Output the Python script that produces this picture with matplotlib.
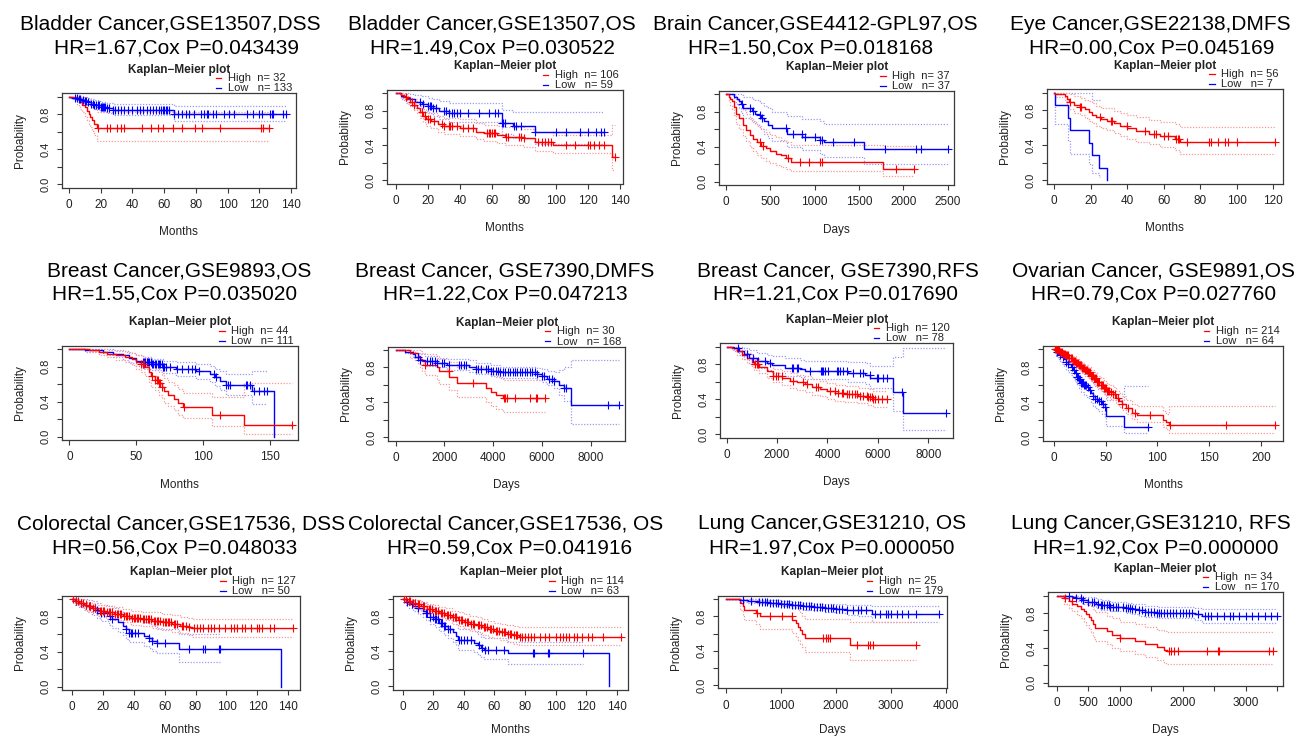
import numpy as np
import matplotlib
matplotlib.use("Agg")
import matplotlib.pyplot as plt
from matplotlib.lines import Line2D

nan = np.nan

# ---------------- text data ----------------
TITLES1 = ["Bladder Cancer,GSE13507,DSS", "Bladder Cancer,GSE13507,OS",
           "Brain Cancer,GSE4412-GPL97,OS", "Eye Cancer,GSE22138,DMFS",
           "Breast Cancer,GSE9893,OS", "Breast Cancer, GSE7390,DMFS",
           "Breast Cancer, GSE7390,RFS", "Ovarian Cancer, GSE9891,OS",
           "Colorectal Cancer,GSE17536, DSS", "Colorectal Cancer,GSE17536, OS",
           "Lung Cancer,GSE31210, OS", "Lung Cancer,GSE31210, RFS"]
TITLES2 = ["HR=1.67,Cox P=0.043439", "HR=1.49,Cox P=0.030522",
           "HR=1.50,Cox P=0.018168", "HR=0.00,Cox P=0.045169",
           "HR=1.55,Cox P=0.035020", "HR=1.22,Cox P=0.047213",
           "HR=1.21,Cox P=0.017690", "HR=0.79,Cox P=0.027760",
           "HR=0.56,Cox P=0.048033", "HR=0.59,Cox P=0.041916",
           "HR=1.97,Cox P=0.000050", "HR=1.92,Cox P=0.000000"]
XLABELS = ["Months", "Months", "Days", "Months", "Months", "Days",
           "Days", "Months", "Months", "Months", "Days", "Days"]
N_HIGH = [32, 106, 37, 56, 44, 30, 120, 214, 127, 114, 25, 34]
N_LOW = [133, 59, 37, 7, 111, 168, 78, 64, 50, 63, 179, 170]
XTICKS = [[0, 20, 40, 60, 80, 100, 120, 140], [0, 20, 40, 60, 80, 100, 120, 140],
          [0, 500, 1000, 1500, 2000, 2500], [0, 20, 40, 60, 80, 100, 120],
          [0, 50, 100, 150], [0, 2000, 4000, 6000, 8000],
          [0, 2000, 4000, 6000, 8000], [0, 50, 100, 150, 200],
          [0, 20, 40, 60, 80, 100, 120, 140], [0, 20, 40, 60, 80, 100, 120, 140],
          [0, 1000, 2000, 3000, 4000], [0, 500, 1000, 1500, 2000, 2500, 3000, 3500]]
XTICKLABELS = [None, None, None, None, None, None, None, None, None, None, None,
               ["0", "500", "1000", "", "2000", "", "3000", ""]]
YTICKS = [0, 0.2, 0.4, 0.6, 0.8, 1.0]
YTICKLABELS = ["0.0", "", "0.4", "", "0.8", ""]

# ---------------- curve data (t: step times, s: survival, up/lo: CI, c: censor times) ----------------
P1_HI_T = [0, 5, 7, 8, 10, 11.5, 12.5, 13.5, 14.5, 16, 17.5]
P1_HI_S = [1, 0.97, 0.94, 0.91, 0.88, 0.84, 0.80, 0.77, 0.73, 0.69, 0.645]
P1_HI_UP = [1, 1, 1, 1, 1, 0.99, 0.97, 0.94, 0.91, 0.88, 0.83]
P1_HI_LO = [1, 0.91, 0.86, 0.82, 0.78, 0.73, 0.69, 0.65, 0.61, 0.56, 0.49]
P1_HI_C = [18, 24, 26, 30, 33, 34.5, 46, 52, 56, 59.5, 65.5, 71, 79.5, 84, 95, 121, 122.5, 126]
P1_LO_T = [0, 2, 4, 6, 8, 10, 12, 14, 16, 18, 20, 24, 28, 66]
P1_LO_S = [1, 0.99, 0.98, 0.97, 0.96, 0.95, 0.935, 0.92, 0.91, 0.90, 0.885, 0.87, 0.85, 0.80]
P1_LO_UP = [1, 1, 1, 1, 0.99, 0.99, 0.98, 0.97, 0.96, 0.95, 0.94, 0.93, 0.92, 0.89]
P1_LO_LO = [1, 0.97, 0.96, 0.94, 0.93, 0.91, 0.90, 0.88, 0.86, 0.85, 0.83, 0.81, 0.79, 0.72]
P1_LO_C = [4, 5, 6, 7, 9, 10, 11, 12, 14, 15, 16, 17, 18, 19, 20, 21, 21.5, 22, 23, 24, 25, 28, 29,
           31, 33, 35, 37, 40, 43, 45, 47, 49, 51, 53, 55, 57, 58, 59, 60, 61, 62, 63, 66, 69, 71,
           74, 76, 79, 83, 85, 87, 88, 91, 93, 98, 101, 104, 112, 116, 120, 122, 127, 128, 129,
           135, 137]

P2_HI_T = [0, 3, 5, 7, 9, 11, 13, 15, 17, 19, 22, 26, 30, 40, 50, 55, 63, 68, 80, 87, 98, 135]
P2_HI_S = [1, 0.98, 0.96, 0.93, 0.90, 0.87, 0.83, 0.79, 0.74, 0.70, 0.68, 0.65, 0.62, 0.60,
           0.56, 0.54, 0.52, 0.50, 0.48, 0.44, 0.41, 0.27]
P2_HI_UP = [1, 1, 0.99, 0.97, 0.95, 0.93, 0.90, 0.86, 0.82, 0.79, 0.77, 0.74, 0.72, 0.70,
            0.66, 0.64, 0.62, 0.61, 0.59, 0.55, 0.52, 0.64]
P2_HI_LO = [1, 0.95, 0.92, 0.88, 0.85, 0.81, 0.77, 0.72, 0.67, 0.62, 0.60, 0.56, 0.53, 0.51,
            0.47, 0.45, 0.43, 0.40, 0.38, 0.34, 0.31, 0.11]
P2_HI_C = [6, 10, 11, 16, 18, 20, 21, 24, 29, 30, 33, 34, 35, 38, 42, 45, 48, 57, 58, 59, 60, 61,
           62, 69, 70, 77, 78, 80, 89, 91, 93, 95, 97, 106, 112, 120, 121, 124, 127, 130, 137]
P2_LO_T = [0, 3, 6, 9, 12, 16, 20, 23, 27, 33, 66, 73, 87]
P2_LO_S = [1, 0.97, 0.95, 0.93, 0.90, 0.88, 0.86, 0.83, 0.80, 0.77, 0.66, 0.62, 0.56]
P2_LO_UP = [1, 1, 1, 0.99, 0.98, 0.97, 0.95, 0.93, 0.91, 0.89, 0.81, 0.79, 0.78]
P2_LO_LO = [1, 0.93, 0.89, 0.86, 0.83, 0.80, 0.77, 0.74, 0.70, 0.67, 0.53, 0.49, 0.42]
P2_LO_C = [15, 17, 20, 21, 22, 23, 25, 30, 31, 33, 35, 36, 38, 40, 45, 52, 58, 62, 64, 66, 67, 68,
           74, 75, 78, 87, 100, 106, 115, 120, 125, 128, 130]

P3_HI_T = [0, 30, 50, 70, 90, 110, 150, 190, 230, 270, 310, 350, 400, 450, 500, 560, 620, 680, 730, 1770]
P3_HI_S = [1, 0.97, 0.95, 0.92, 0.86, 0.78, 0.73, 0.65, 0.59, 0.54, 0.49, 0.45, 0.41, 0.38, 0.35,
           0.32, 0.30, 0.27, 0.23, 0.15]
P3_HI_UP = [1, 1, 1, 1, 0.98, 0.93, 0.89, 0.82, 0.77, 0.72, 0.68, 0.64, 0.60, 0.57, 0.54, 0.51,
            0.48, 0.45, 0.42, 0.41]
P3_HI_LO = [1, 0.92, 0.88, 0.83, 0.76, 0.66, 0.60, 0.52, 0.46, 0.40, 0.35, 0.31, 0.27, 0.24,
            0.21, 0.19, 0.17, 0.15, 0.12, 0.06]
P3_HI_C = [385, 420, 705, 840, 940, 1060, 1080, 1920, 2120]
P3_LO_T = [0, 90, 120, 150, 170, 190, 290, 330, 370, 400, 430, 470, 520, 690, 860, 1060, 1100, 1560]
P3_LO_S = [1, 0.97, 0.95, 0.92, 0.89, 0.84, 0.81, 0.78, 0.76, 0.73, 0.69, 0.65, 0.61, 0.55,
           0.51, 0.48, 0.45, 0.37]
P3_LO_UP = [1, 1, 1, 1, 1, 0.97, 0.95, 0.93, 0.92, 0.90, 0.87, 0.84, 0.80, 0.75, 0.72, 0.69, 0.66, 0.66]
P3_LO_LO = [1, 0.91, 0.88, 0.84, 0.79, 0.73, 0.69, 0.66, 0.63, 0.60, 0.55, 0.50, 0.46, 0.40,
            0.36, 0.32, 0.28, 0.20]
P3_LO_C = [177, 270, 308, 383, 402, 677, 752, 853, 891, 1004, 1060, 1079, 1210, 1444, 1793,
           2139, 2199, 2500]

P4_HI_T = [0, 0.5, 6, 7, 8, 11, 14, 17, 19, 21, 23, 26, 29, 33, 36, 40, 45, 52, 58, 66, 69]
P4_HI_S = [1, 0.98, 0.96, 0.93, 0.89, 0.86, 0.84, 0.81, 0.78, 0.75, 0.72, 0.70, 0.68, 0.65,
           0.62, 0.59, 0.56, 0.53, 0.50, 0.47, 0.43]
P4_HI_UP = [1, 1, 1, 1, 0.98, 0.96, 0.94, 0.92, 0.90, 0.88, 0.85, 0.83, 0.82, 0.79, 0.77, 0.74,
            0.72, 0.69, 0.66, 0.64, 0.61]
P4_HI_LO = [1, 0.95, 0.91, 0.86, 0.81, 0.77, 0.75, 0.71, 0.68, 0.65, 0.62, 0.59, 0.57, 0.54,
            0.50, 0.47, 0.44, 0.41, 0.38, 0.34, 0.30]
P4_HI_C = [8.8, 14.2, 15, 25, 31, 32, 39.8, 50, 55, 55.7, 60, 62.6, 67, 67.7, 68.4, 72.6, 85,
           85.8, 89.6, 93.6, 95, 100, 121]
P4_LO_T = [0, 0.5, 7.5, 8.5, 19, 21, 24.5, 29]
P4_LO_S = [1, 0.857, 0.714, 0.571, 0.429, 0.286, 0.143, 0.0]
P4_LO_UP = [1, 1, 1, 1, 1, 0.92, 0.92, nan]
P4_LO_LO = [1, 0.64, 0.45, 0.30, 0.18, 0.08, 0.03, nan]
P4_LO_C = []

P5_HI_T = [0, 15, 22, 28, 35, 42, 47, 50, 54, 57, 60, 61, 64, 67, 69, 71, 74, 78, 81, 85, 107, 131]
P5_HI_S = [1, 0.99, 0.97, 0.95, 0.93, 0.91, 0.89, 0.86, 0.83, 0.80, 0.74, 0.69, 0.65, 0.61,
           0.57, 0.52, 0.48, 0.43, 0.38, 0.34, 0.25, 0.13]
P5_HI_UP = [1, 1, 1, 0.99, 0.98, 0.97, 0.96, 0.94, 0.92, 0.90, 0.85, 0.81, 0.78, 0.74, 0.71,
            0.67, 0.63, 0.59, 0.55, 0.50, 0.45, 0.62]
P5_HI_LO = [1, 0.97, 0.94, 0.91, 0.88, 0.85, 0.82, 0.78, 0.74, 0.70, 0.63, 0.57, 0.53, 0.48,
            0.44, 0.39, 0.35, 0.30, 0.25, 0.21, 0.12, 0.03]
P5_HI_C = [54, 55.5, 56, 62, 64, 65.5, 66, 67, 68, 69, 85.5, 113, 167]
P5_LO_T = [0, 12, 25, 33, 40, 45, 50, 55, 62, 70, 80, 95, 105, 109, 113, 117, 137, 153]
P5_LO_S = [1, 0.99, 0.97, 0.95, 0.93, 0.90, 0.87, 0.85, 0.83, 0.80, 0.78, 0.75, 0.72, 0.68,
           0.64, 0.595, 0.525, 0.0]
P5_LO_UP = [1, 1, 1, 0.99, 0.98, 0.96, 0.93, 0.91, 0.89, 0.87, 0.85, 0.83, 0.81, 0.78, 0.75,
            0.72, 0.75, nan]
P5_LO_LO = [1, 0.97, 0.94, 0.91, 0.88, 0.84, 0.81, 0.78, 0.76, 0.73, 0.70, 0.66, 0.63, 0.58,
            0.53, 0.48, 0.37, nan]
P5_LO_C = [55, 56, 57, 58, 59, 60, 61, 62, 63, 64, 65, 66, 67, 68, 69, 70, 71, 72, 75.5, 80.5,
           84, 89, 92, 94, 97, 108, 110, 117, 119, 120.5, 132, 133, 135, 138, 142, 145.5, 148]

P6_HI_T = [0, 600, 900, 1000, 1100, 1200, 1700, 1800, 2200, 2500, 3700, 3900, 4100, 4400]
P6_HI_S = [1, 0.97, 0.93, 0.90, 0.87, 0.83, 0.80, 0.76, 0.69, 0.62, 0.57, 0.52, 0.49, 0.45]
P6_HI_UP = [1, 1, 1, 0.99, 0.97, 0.95, 0.93, 0.90, 0.86, 0.80, 0.76, 0.72, 0.69, 0.66]
P6_HI_LO = [1, 0.91, 0.85, 0.80, 0.76, 0.71, 0.66, 0.61, 0.54, 0.46, 0.41, 0.36, 0.32, 0.29]
P6_HI_C = [1200, 2190, 3160, 4450, 4490, 4550, 4900, 5510, 5750, 5800, 6150]
P6_LO_T = [0, 400, 700, 800, 1000, 1200, 1700, 2100, 3000, 3300, 3900, 4300, 5800, 6000, 6200,
           6500, 6700, 6900, 7200]
P6_LO_S = [1, 0.98, 0.95, 0.92, 0.89, 0.87, 0.85, 0.83, 0.81, 0.78, 0.76, 0.745, 0.72, 0.70,
           0.67, 0.65, 0.60, 0.56, 0.37]
P6_LO_UP = [1, 1, 0.99, 0.97, 0.95, 0.93, 0.91, 0.90, 0.88, 0.85, 0.83, 0.81, 0.79, 0.78, 0.76,
            0.75, 0.77, 0.80, 0.89]
P6_LO_LO = [1, 0.96, 0.92, 0.88, 0.84, 0.82, 0.80, 0.77, 0.75, 0.72, 0.70, 0.68, 0.66, 0.63,
            0.60, 0.57, 0.48, 0.42, 0.15]
P6_LO_C = [900, 1000, 1300, 1400, 1500, 1600, 1700, 1900, 2000, 2200, 2600, 2700, 2800, 2900,
           3300, 3400, 3500, 3700, 3800, 3900, 4000, 4100, 4200, 4300, 4400, 4500, 4600, 4700,
           4800, 4900, 5000, 5100, 5200, 5300, 5400, 5500, 5600, 5700, 5800, 6000, 6100, 6300,
           6400, 6500, 6900, 7000, 8700, 9150]

P7_HI_T = [0, 200, 400, 600, 800, 1000, 1100, 1300, 1600, 1850, 2200, 2500, 2800, 3100, 3400,
           3700, 4000, 4300, 4700, 5200, 5600, 5800]
P7_HI_S = [1, 0.98, 0.95, 0.91, 0.87, 0.83, 0.80, 0.77, 0.72, 0.67, 0.64, 0.61, 0.59, 0.57,
           0.54, 0.52, 0.49, 0.47, 0.46, 0.44, 0.42, 0.40]
P7_HI_UP = [1, 1, 0.99, 0.96, 0.93, 0.89, 0.87, 0.84, 0.80, 0.75, 0.72, 0.70, 0.68, 0.66, 0.63,
            0.61, 0.58, 0.56, 0.55, 0.53, 0.51, 0.49]
P7_HI_LO = [1, 0.96, 0.91, 0.86, 0.81, 0.77, 0.73, 0.70, 0.64, 0.59, 0.56, 0.53, 0.50, 0.48,
            0.45, 0.43, 0.40, 0.38, 0.37, 0.35, 0.33, 0.31]
P7_HI_C = [1124, 1190, 1257, 1852, 1958, 2050, 2183, 2646, 3042, 3201, 3532, 3638, 4101, 4299,
           4431, 4563, 4630, 4762, 4854, 4960, 5093, 5159, 5291, 5423, 5556, 5622, 5688, 5754,
           5820, 5886, 6019, 6151, 6349]
P7_LO_T = [0, 300, 500, 700, 900, 1200, 1600, 1800, 2300, 2900, 3100, 4800, 5500, 5700, 6600, 7000]
P7_LO_S = [1, 0.98, 0.95, 0.92, 0.87, 0.84, 0.81, 0.79, 0.76, 0.74, 0.72, 0.70, 0.68, 0.645,
           0.48, 0.24]
P7_LO_UP = [1, 1, 1, 0.99, 0.96, 0.93, 0.91, 0.89, 0.87, 0.85, 0.84, 0.82, 0.81, 0.78, 0.88, 0.99]
P7_LO_LO = [1, 0.95, 0.91, 0.86, 0.80, 0.76, 0.73, 0.70, 0.67, 0.65, 0.63, 0.60, 0.57, 0.53,
            0.26, 0.05]
P7_LO_C = [463, 794, 1058, 1257, 1521, 1720, 2579, 2646, 2778, 2844, 3307, 3743, 3770, 3836,
           3902, 4034, 4365, 4431, 4497, 4630, 4762, 5026, 5291, 5423, 5688, 5952, 6019, 6217,
           6349, 6944, 8704]

P8_HI_T = [0, 3, 6, 9, 12, 15, 18, 21, 24, 27, 30, 33, 36, 39, 42, 45, 48, 51, 54, 57, 60, 63,
           66, 70, 75, 80, 105, 108, 111]
P8_HI_S = [1, 0.99, 0.97, 0.95, 0.93, 0.90, 0.87, 0.84, 0.82, 0.79, 0.76, 0.74, 0.70, 0.67,
           0.63, 0.60, 0.56, 0.53, 0.51, 0.49, 0.45, 0.41, 0.38, 0.33, 0.28, 0.25, 0.20, 0.17, 0.14]
P8_HI_UP = [1, 1, 0.99, 0.98, 0.96, 0.94, 0.92, 0.89, 0.87, 0.85, 0.82, 0.80, 0.77, 0.74, 0.70,
            0.67, 0.64, 0.61, 0.59, 0.57, 0.53, 0.50, 0.47, 0.42, 0.38, 0.35, 0.30, 0.27, 0.35]
P8_HI_LO = [1, 0.97, 0.95, 0.92, 0.89, 0.86, 0.82, 0.79, 0.76, 0.73, 0.70, 0.67, 0.64, 0.60,
            0.56, 0.53, 0.49, 0.46, 0.44, 0.42, 0.38, 0.34, 0.31, 0.26, 0.21, 0.17, 0.12, 0.09, 0.05]
P8_HI_C = [1, 2, 3, 4, 5, 6, 7, 8, 9, 10, 11, 12, 13, 14, 15, 16, 17, 18, 19, 20, 21, 22, 23, 24,
           25, 26, 27, 28, 29, 30, 31, 32, 33, 34, 35, 36, 37, 38, 39, 40, 41, 42, 43, 44, 45, 46,
           47, 48, 49, 50, 51, 52, 53, 55, 57, 59, 62, 66, 72, 78, 93, 112, 166, 214]
P8_LO_T = [0, 2, 4, 6, 8, 10, 12, 14, 16, 18, 20, 22, 24, 26, 29, 32, 34, 36, 38, 40, 43, 46,
           49, 50, 68]
P8_LO_S = [1, 0.97, 0.95, 0.93, 0.91, 0.89, 0.86, 0.83, 0.80, 0.77, 0.73, 0.69, 0.66, 0.62,
           0.59, 0.57, 0.54, 0.50, 0.47, 0.44, 0.41, 0.38, 0.34, 0.24, 0.12]
P8_LO_UP = [1, 1, 0.99, 0.98, 0.97, 0.96, 0.94, 0.92, 0.89, 0.87, 0.84, 0.81, 0.78, 0.75, 0.72,
            0.70, 0.67, 0.64, 0.61, 0.58, 0.55, 0.52, 0.49, 0.42, 0.58]
P8_LO_LO = [1, 0.92, 0.89, 0.86, 0.83, 0.81, 0.77, 0.74, 0.71, 0.67, 0.63, 0.59, 0.56, 0.52,
            0.48, 0.46, 0.43, 0.39, 0.36, 0.33, 0.30, 0.27, 0.23, 0.13, 0.05]
P8_LO_C = [3, 6, 9, 12, 14, 17, 19, 21, 22, 23, 24, 25, 26, 27, 28, 29, 30, 31, 33, 35, 38, 40,
           42, 44, 45, 47, 49, 91]

P9_HI_T = [0, 2, 5, 8, 10, 13, 17, 22, 27, 33, 38, 45, 52, 58, 65, 70, 75, 78]
P9_HI_S = [1, 0.98, 0.96, 0.94, 0.92, 0.90, 0.87, 0.85, 0.83, 0.81, 0.79, 0.775, 0.755, 0.735,
           0.72, 0.70, 0.685, 0.67]
P9_HI_UP = [1, 1, 1, 0.99, 0.97, 0.96, 0.94, 0.92, 0.91, 0.89, 0.87, 0.86, 0.85, 0.83, 0.82,
            0.80, 0.79, 0.78]
P9_HI_LO = [1, 0.95, 0.92, 0.89, 0.87, 0.84, 0.81, 0.78, 0.76, 0.74, 0.71, 0.69, 0.67, 0.65,
            0.63, 0.61, 0.59, 0.57]
P9_HI_C = [1, 3, 4, 6, 7, 9, 11, 12, 14, 15, 18, 19, 20, 21, 23, 24, 25, 26, 28, 29, 30, 31, 32,
           34, 35, 36, 37, 39, 40, 41, 42, 43, 44, 46, 47, 48, 49, 50, 51, 53, 54, 55, 56, 57, 59,
           60, 61, 62, 63, 64, 66, 67, 68, 71, 72, 74, 76, 79, 81, 83, 85, 88, 90, 92, 95, 99,
           103, 105, 107, 110, 112, 116, 120, 121, 123, 128, 131, 143]
P9_LO_T = [0, 2, 5, 8, 10, 13, 16, 19, 24, 26, 30, 33, 35, 37, 47, 50, 52, 55, 69, 135]
P9_LO_S = [1, 0.98, 0.96, 0.94, 0.92, 0.90, 0.88, 0.84, 0.81, 0.78, 0.74, 0.70, 0.66, 0.62,
           0.58, 0.555, 0.52, 0.495, 0.43, 0.0]
P9_LO_UP = [1, 1, 1, 1, 0.99, 0.98, 0.96, 0.94, 0.92, 0.90, 0.87, 0.84, 0.81, 0.77, 0.74, 0.72,
            0.69, 0.66, 0.60, nan]
P9_LO_LO = [1, 0.94, 0.91, 0.88, 0.85, 0.82, 0.79, 0.75, 0.71, 0.67, 0.63, 0.59, 0.55, 0.51,
            0.47, 0.44, 0.41, 0.38, 0.28, nan]
P9_LO_C = [3, 6, 9, 12, 15, 16, 19, 21, 25, 26, 35, 37, 38, 39, 41, 43, 50, 52, 55, 60, 76, 85,
           86, 95, 96]

P10_HI_T = [0, 3, 6, 9, 12, 16, 20, 24, 28, 32, 36, 40, 44, 48, 52, 56, 60, 64, 68, 72, 76]
P10_HI_S = [1, 0.98, 0.96, 0.94, 0.92, 0.89, 0.86, 0.84, 0.82, 0.79, 0.76, 0.74, 0.72, 0.70,
            0.68, 0.66, 0.64, 0.62, 0.60, 0.585, 0.57]
P10_HI_UP = [1, 1, 1, 0.99, 0.97, 0.95, 0.93, 0.91, 0.90, 0.87, 0.85, 0.83, 0.81, 0.79, 0.77,
             0.75, 0.73, 0.72, 0.70, 0.69, 0.68]
P10_HI_LO = [1, 0.95, 0.92, 0.89, 0.87, 0.84, 0.80, 0.78, 0.76, 0.72, 0.69, 0.66, 0.64, 0.62,
             0.59, 0.57, 0.55, 0.53, 0.51, 0.49, 0.47]
P10_HI_C = [1, 2, 4, 5, 7, 8, 10, 11, 13, 14, 17, 18, 19, 21, 22, 23, 25, 26, 27, 29, 30, 31,
            33, 34, 35, 37, 38, 39, 41, 42, 43, 45, 46, 47, 49, 50, 51, 53, 54, 55, 57, 58, 59,
            61, 62, 63, 65, 66, 67, 69, 70, 71, 73, 74, 75, 77, 78, 80, 82, 84, 86, 90, 93, 96,
            100, 103, 105, 107, 109, 112, 114, 117, 121, 124, 131, 143]
P10_LO_T = [0, 2, 4, 7, 10, 13, 15, 18, 21, 24, 27, 30, 33, 35, 36.5, 47, 49, 51, 53, 69, 135]
P10_LO_S = [1, 0.97, 0.95, 0.92, 0.90, 0.87, 0.84, 0.80, 0.77, 0.73, 0.69, 0.66, 0.62, 0.58,
            0.53, 0.50, 0.47, 0.44, 0.42, 0.38, 0.0]
P10_LO_UP = [1, 1, 1, 0.99, 0.98, 0.96, 0.94, 0.91, 0.88, 0.85, 0.81, 0.78, 0.75, 0.71, 0.66,
             0.63, 0.60, 0.57, 0.55, 0.51, nan]
P10_LO_LO = [1, 0.93, 0.90, 0.86, 0.83, 0.79, 0.76, 0.71, 0.68, 0.63, 0.59, 0.55, 0.51, 0.47,
             0.42, 0.39, 0.36, 0.33, 0.31, 0.25, nan]
P10_LO_C = [3, 6, 10, 15, 16, 18, 20, 21, 22, 23, 25, 26, 27, 28, 30, 31, 37, 38, 40, 42, 45,
            50, 52, 54, 56, 61, 66, 85, 86, 95, 96, 118]

P11_HI_T = [0, 250, 300, 330, 550, 620, 1200, 1270, 1310, 1340, 1380, 1440, 2250]
P11_HI_S = [1, 0.96, 0.92, 0.88, 0.84, 0.80, 0.76, 0.72, 0.68, 0.64, 0.60, 0.55, 0.47]
P11_HI_UP = [1, 1, 1, 1, 0.99, 0.96, 0.93, 0.90, 0.87, 0.84, 0.81, 0.77, 0.73]
P11_HI_LO = [1, 0.88, 0.82, 0.76, 0.71, 0.65, 0.61, 0.56, 0.52, 0.48, 0.44, 0.38, 0.29]
P11_HI_C = [560, 800, 1010, 1195, 1770, 1810, 1850, 1890, 2375, 2590, 2620, 2680, 3450]
P11_LO_T = [0, 250, 400, 600, 800, 1000, 1200, 1400, 1600, 1800, 2000, 2200, 2400, 2650]
P11_LO_S = [1, 0.99, 0.98, 0.97, 0.96, 0.95, 0.935, 0.92, 0.91, 0.90, 0.89, 0.88, 0.87, 0.825]
P11_LO_UP = [1, 1, 1, 0.99, 0.99, 0.98, 0.97, 0.96, 0.95, 0.95, 0.94, 0.93, 0.93, 0.92]
P11_LO_LO = [1, 0.97, 0.96, 0.95, 0.93, 0.92, 0.90, 0.88, 0.87, 0.85, 0.84, 0.82, 0.81, 0.73]
P11_LO_C = [300, 450, 600, 650, 700, 750, 800, 850, 900, 950, 1000, 1050, 1100, 1150, 1200,
            1250, 1300, 1350, 1400, 1450, 1500, 1550, 1600, 1650, 1700, 1750, 1800, 1850, 1900,
            1950, 2000, 2050, 2100, 2200, 2300, 2400, 2450, 2550, 2700, 2800, 2900, 2950, 3000,
            3100, 3200, 3300, 3450, 3870]

P12_HI_T = [0, 120, 200, 250, 320, 390, 430, 470, 510, 550, 580, 610, 800, 880, 1000, 1250,
            1400, 1600, 1700, 1750]
P12_HI_S = [1, 0.97, 0.94, 0.91, 0.88, 0.85, 0.82, 0.79, 0.76, 0.72, 0.68, 0.63, 0.59, 0.55,
            0.51, 0.48, 0.44, 0.41, 0.38, 0.365]
P12_HI_UP = [1, 1, 1, 1, 0.99, 0.97, 0.95, 0.93, 0.91, 0.88, 0.85, 0.81, 0.77, 0.74, 0.70, 0.67,
             0.64, 0.61, 0.59, 0.58]
P12_HI_LO = [1, 0.91, 0.86, 0.82, 0.78, 0.74, 0.70, 0.66, 0.62, 0.58, 0.53, 0.48, 0.44, 0.40,
             0.36, 0.33, 0.29, 0.26, 0.23, 0.22]
P12_HI_C = [130, 238, 1005, 1780, 1815, 1862, 1921, 2381, 2556, 2582, 3376, 3439]
P12_LO_T = [0, 250, 300, 400, 500, 620, 700, 850, 1100, 1200, 1300, 1400, 1600, 2200, 2300]
P12_LO_S = [1, 0.99, 0.97, 0.95, 0.93, 0.91, 0.89, 0.87, 0.86, 0.85, 0.83, 0.81, 0.80, 0.79, 0.765]
P12_LO_UP = [1, 1, 1, 0.99, 0.98, 0.96, 0.95, 0.93, 0.92, 0.91, 0.90, 0.88, 0.87, 0.86, 0.85]
P12_LO_LO = [1, 0.97, 0.94, 0.91, 0.89, 0.86, 0.84, 0.82, 0.80, 0.79, 0.77, 0.75, 0.74, 0.72, 0.69]
P12_LO_C = [200, 300, 380, 420, 500, 560, 600, 650, 700, 720, 750, 800, 830, 850, 900, 950, 980,
            1050, 1100, 1130, 1160, 1200, 1250, 1300, 1350, 1400, 1450, 1500, 1550, 1600, 1620,
            1650, 1700, 1750, 1800, 1850, 1900, 1950, 2000, 2050, 2100, 2150, 2250, 2350, 2400,
            2450, 2550, 2650, 2750, 2800, 2900, 3000, 3100, 3200, 3300, 3400, 3500]

HIGH = [(P1_HI_T, P1_HI_S, P1_HI_UP, P1_HI_LO, P1_HI_C, None),
        (P2_HI_T, P2_HI_S, P2_HI_UP, P2_HI_LO, P2_HI_C, None),
        (P3_HI_T, P3_HI_S, P3_HI_UP, P3_HI_LO, P3_HI_C, None),
        (P4_HI_T, P4_HI_S, P4_HI_UP, P4_HI_LO, P4_HI_C, None),
        (P5_HI_T, P5_HI_S, P5_HI_UP, P5_HI_LO, P5_HI_C, None),
        (P6_HI_T, P6_HI_S, P6_HI_UP, P6_HI_LO, P6_HI_C, None),
        (P7_HI_T, P7_HI_S, P7_HI_UP, P7_HI_LO, P7_HI_C, None),
        (P8_HI_T, P8_HI_S, P8_HI_UP, P8_HI_LO, P8_HI_C, None),
        (P9_HI_T, P9_HI_S, P9_HI_UP, P9_HI_LO, P9_HI_C, None),
        (P10_HI_T, P10_HI_S, P10_HI_UP, P10_HI_LO, P10_HI_C, None),
        (P11_HI_T, P11_HI_S, P11_HI_UP, P11_HI_LO, P11_HI_C, None),
        (P12_HI_T, P12_HI_S, P12_HI_UP, P12_HI_LO, P12_HI_C, None)]
LOW = [(P1_LO_T, P1_LO_S, P1_LO_UP, P1_LO_LO, P1_LO_C, None),
       (P2_LO_T, P2_LO_S, P2_LO_UP, P2_LO_LO, P2_LO_C, None),
       (P3_LO_T, P3_LO_S, P3_LO_UP, P3_LO_LO, P3_LO_C, None),
       (P4_LO_T, P4_LO_S, P4_LO_UP, P4_LO_LO, P4_LO_C, 25),
       (P5_LO_T, P5_LO_S, P5_LO_UP, P5_LO_LO, P5_LO_C, 148),
       (P6_LO_T, P6_LO_S, P6_LO_UP, P6_LO_LO, P6_LO_C, None),
       (P7_LO_T, P7_LO_S, P7_LO_UP, P7_LO_LO, P7_LO_C, None),
       (P8_LO_T, P8_LO_S, P8_LO_UP, P8_LO_LO, P8_LO_C, None),
       (P9_LO_T, P9_LO_S, P9_LO_UP, P9_LO_LO, P9_LO_C, 96),
       (P10_LO_T, P10_LO_S, P10_LO_UP, P10_LO_LO, P10_LO_C, 118),
       (P11_LO_T, P11_LO_S, P11_LO_UP, P11_LO_LO, P11_LO_C, None),
       (P12_LO_T, P12_LO_S, P12_LO_UP, P12_LO_LO, P12_LO_C, None)]

# ---------------- layout (pixels) ----------------
W, H = 1305, 738
BOXES = [(61.7, 93.2, 296.0, 187.5), (386.7, 89.9, 622.7, 183.5),
         (719.3, 90.8, 954.0, 185.2), (1046.7, 89.2, 1282.7, 183.5),
         (61.7, 345.8, 297.7, 440.2), (388.3, 346.5, 625.0, 440.8),
         (720.0, 343.2, 953.3, 437.5), (1043.3, 345.8, 1283.3, 440.8),
         (61.7, 595.8, 300.0, 690.2), (393.3, 595.8, 628.3, 689.5),
         (717.7, 595.9, 946.7, 688.4), (1048.3, 592.2, 1282.7, 686.2)]
XLIMS = [(-4.6, 143.2), (-5.8, 141.7), (-75, 2571), (-4.0, 125.2), (-5.75, 171),
         (-300, 9412), (-265, 8995), (-10.3, 221.6), (-6.5, 147.5), (-6.1, 147.6),
         (-152, 4012), (-132, 3587)]
TX1 = [170, 491.7, 815.8, 1150.8, 179.2, 504.2, 838, 1153.3, 181.5, 506, 831.7, 1150.8]
TX2 = [176.7, 492.8, 810.8, 1151.7, 174.2, 505, 835.8, 1153.3, 175, 509.2, 831.7, 1155.8]
TY1 = [30, 276.5, 529]
TY2 = [53.3, 299.5, 553]

RED, BLUE = "#ff0000", "#0000ff"
RED_CI, BLUE_CI = "#f39a9a", "#9a9af3"
AXC = "#3a3a3a"
TXC = "#222222"

plt.rcParams["font.family"] = ["Liberation Sans", "DejaVu Sans"]
fig = plt.figure(figsize=(W / 100, H / 100), dpi=100)
fig.patch.set_facecolor("white")


def fx(x):
    return x / W


def fy(y):
    return 1 - y / H


def draw_curve(ax, data, color, cicolor):
    t, s, up, lo, cens, ci_end = data
    t = np.asarray(t, float)
    s = np.asarray(s, float)
    end = t[-1]
    if len(cens):
        end = max(end, max(cens))
    ce = end if ci_end is None else ci_end
    for v in (up, lo):
        v = np.asarray(v, float)
        keep = (t <= ce) & ~np.isnan(v)
        xs = list(t[keep]) + [ce]
        ys = list(v[keep]) + [v[keep][-1]]
        ax.step(xs, ys, where="post", color=cicolor, lw=0.9,
                ls=(0, (1.0, 1.3)), zorder=2)
    ax.step(list(t) + [end], list(s) + [s[-1]], where="post", color=color,
            lw=1.0, zorder=3)
    if len(cens):
        c = np.asarray(cens, float)
        idx = np.searchsorted(t, c, side="right") - 1
        ax.plot(c, s[idx], ls="none", marker="+", ms=6, mew=0.8,
                color=color, zorder=4)


legend_items = []
for i in range(12):
    L, T, R, B = BOXES[i]
    row = i // 4
    ax = fig.add_axes([fx(L), fy(B), (R - L) / W, (B - T) / H])
    draw_curve(ax, LOW[i], BLUE, BLUE_CI)
    draw_curve(ax, HIGH[i], RED, RED_CI)
    ax.set_xlim(*XLIMS[i])
    ax.set_ylim(-0.04, 1.04)
    ax.set_yticks(YTICKS)
    ax.set_yticklabels(YTICKLABELS, rotation=90, va="center", fontsize=8,
                       color=TXC)
    ax.set_xticks(XTICKS[i])
    labs = XTICKLABELS[i] if XTICKLABELS[i] is not None else [str(v) for v in XTICKS[i]]
    ax.set_xticklabels(labs, fontsize=8.5, color=TXC)
    ax.tick_params(axis="both", direction="out", length=3.6, width=0.8, color=AXC)
    ax.tick_params(axis="x", pad=4.5)
    ax.tick_params(axis="y", pad=4.5)
    for sp in ax.spines.values():
        sp.set_color(AXC)
        sp.set_linewidth(0.9)

    # axis labels
    xl_y = min(B + 47.5, 733.0)
    fig.text(fx((L + R) / 2), fy(xl_y), XLABELS[i], ha="center", va="baseline",
             fontsize=8.5, color=TXC)
    fig.text(fx(L - 39), fy((T + B) / 2), "Probability", rotation=90,
             rotation_mode="anchor", ha="center", va="baseline", fontsize=8.5,
             color=TXC)
    # KM title
    fig.text(fx((L + R) / 2), fy(T - 20.5), "Kaplan\u2212Meier plot", ha="center",
             va="baseline", fontsize=8.5, fontweight="bold", color=TXC)
    # titles
    fig.text(fx(TX1[i]), fy(TY1[row]), TITLES1[i], ha="center", va="baseline",
             fontsize=15, color="black")
    fig.text(fx(TX2[i]), fy(TY2[row]), TITLES2[i], ha="center", va="baseline",
             fontsize=15, color="black")
    # legend texts (positioned after measuring)
    t_hi = fig.text(fx(R - 4), fy(T - 12), "High  n= %d" % N_HIGH[i], ha="right",
                    va="baseline", fontsize=8, color=TXC)
    t_lo = fig.text(fx(R - 4), fy(T - 2), "Low   n= %d" % N_LOW[i], ha="right",
                    va="baseline", fontsize=8, color=TXC)
    legend_items.append((t_hi, t_lo, R, T))

renderer = fig.canvas.get_renderer()
for t_hi, t_lo, R, T in legend_items:
    w = max(t_hi.get_window_extent(renderer).width, t_lo.get_window_extent(renderer).width)
    x0 = R - 4 - w
    for txt, yb, col in ((t_hi, T - 12, RED), (t_lo, T - 2, BLUE)):
        txt.set_ha("left")
        txt.set_x(fx(x0))
        fig.add_artist(Line2D([fx(x0 - 12), fx(x0 - 6.5)], [fy(yb - 3.3), fy(yb - 3.3)],
                              transform=fig.transFigure, color=col, lw=0.9))

fig.savefig("out.png", dpi=100, facecolor="white")
